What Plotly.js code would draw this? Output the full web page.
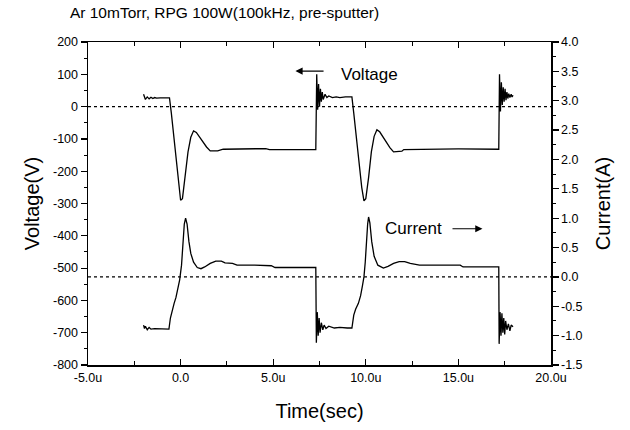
<!DOCTYPE html>
<html>
<head>
<meta charset="utf-8">
<script src="https://cdn.plot.ly/plotly-3.0.1.min.js"></script>
<style>
html,body{margin:0;padding:0;background:#fff;}
#chart{width:630px;height:430px;}
</style>
</head>
<body>
<div id="chart"></div>
<script>
// Time in microseconds
var voltageTime = [
  -2.0,-1.9,-1.8,-1.7,-1.6,-1.5,-1.4,-1.3,-1.1,-0.9,-0.7,-0.6,
  -0.5,-0.35,-0.2,-0.1,0.0,0.1,0.25,0.4,0.55,0.7,0.85,1.1,1.4,1.6,2.0,2.3,3.0,4.6,4.8,7.3,
  7.35,7.4,7.45,7.5,7.55,7.6,7.65,7.7,7.8,7.9,8.0,8.2,8.4,8.6,8.9,9.25,
  9.35,9.5,9.65,9.78,9.9,10.0,10.15,10.3,10.45,10.6,10.75,11.0,11.3,11.5,11.8,11.95,12.05,13.0,15.0,17.18,
  17.22,17.27,17.32,17.37,17.42,17.47,17.52,17.57,17.62,17.67,17.72,17.78,17.85,17.9,17.95
];
var voltageV = [
  38,22,30,24,29,25,28,26,27,27,28,27,
  -20,-100,-190,-250,-290,-285,-220,-140,-95,-75,-80,-100,-125,-137,-137,-132,-131,-130,-133,-133,
  100,-10,70,0,55,15,45,22,38,28,33,28,30,28,30,30,
  -20,-100,-190,-250,-292,-285,-220,-140,-92,-72,-78,-100,-127,-140,-140,-138,-133,-132,-131,-132,
  100,-15,75,5,60,15,55,20,45,25,40,28,38,30,35
];

var currentTime = [
  -2.0,-1.95,-1.9,-1.8,-1.7,-1.6,-1.4,-1.0,-0.63,
  -0.55,-0.45,-0.35,-0.25,-0.15,-0.05,0.05,0.12,0.2,0.27,0.35,0.45,0.55,0.7,0.9,1.1,1.3,1.6,1.9,2.2,2.4,2.8,3.05,4.0,4.9,5.1,7.3,
  7.33,7.38,7.43,7.48,7.53,7.6,7.68,7.75,7.85,8.0,8.3,8.6,9.0,9.25,
  9.35,9.45,9.6,9.72,9.82,9.9,9.97,10.03,10.1,10.15,10.22,10.32,10.45,10.65,10.95,11.2,11.5,11.8,12.1,12.4,12.9,14.0,15.1,15.25,17.18,
  17.2,17.25,17.3,17.35,17.4,17.45,17.5,17.55,17.62,17.7,17.78,17.85,17.95
];
var currentA = [
  -0.82,-0.88,-0.84,-0.9,-0.86,-0.89,-0.88,-0.89,-0.89,
  -0.7,-0.55,-0.45,-0.35,-0.2,-0.05,0.2,0.55,0.9,1.0,0.9,0.6,0.4,0.25,0.16,0.14,0.17,0.23,0.27,0.27,0.24,0.23,0.2,0.2,0.19,0.16,0.16,
  -1.12,-0.6,-1.0,-0.7,-0.95,-0.78,-0.9,-0.82,-0.88,-0.84,-0.87,-0.86,-0.87,-0.87,
  -0.65,-0.55,-0.45,-0.32,-0.15,0.0,0.25,0.6,0.9,1.02,0.92,0.6,0.35,0.2,0.15,0.18,0.23,0.26,0.26,0.23,0.2,0.2,0.2,0.17,0.17,
  -1.14,-0.6,-1.0,-0.62,-0.95,-0.7,-0.98,-0.75,-0.9,-0.8,-0.92,-0.82,-0.85
];

var xTickVals = [-5,0,5,10,15,20];
var xTickText = ["-5.0u","0.0","5.0u","10.0u","15.0u","20.0u"];
var xMinorVals = [-2.5,2.5,7.5,12.5,17.5];
var yTickVals = [200,100,0,-100,-200,-300,-400,-500,-600,-700,-800];
var yTickText = ["200","100","0","-100","-200","-300","-400","-500","-600","-700","-800"];
var yMinorVals = [150,50,-50,-150,-250,-350,-450,-550,-650,-750];
var y2TickVals = [4.0,3.5,3.0,2.5,2.0,1.5,1.0,0.5,0.0,-0.5,-1.0,-1.5];
var y2TickText = ["4.0","3.5","3.0","2.5","2.0","1.5","1.0","0.5","0.0","-0.5","-1.0","-1.5"];
var y2MinorVals = [3.75,3.25,2.75,2.25,1.75,1.25,0.75,0.25,-0.25,-0.75,-1.25];

var F = '"Liberation Sans", Arial, sans-serif';

var traces = [
  {x: voltageTime, y: voltageV, type:'scatter', mode:'lines', line:{color:'#000', width:1.3}, yaxis:'y', hoverinfo:'skip'},
  {x: currentTime, y: currentA, type:'scatter', mode:'lines', line:{color:'#000', width:1.3}, yaxis:'y2', hoverinfo:'skip'}
];

var layout = {
  width:630, height:430,
  margin:{l:88, r:79, t:42, b:65},
  paper_bgcolor:'#fff', plot_bgcolor:'#fff',
  showlegend:false,
  font:{family:F, color:'#000', size:13},
  title:{text:'Ar 10mTorr, RPG 100W(100kHz, pre-sputter)', font:{family:F, size:15.5, color:'#000'}, x:0.111, xanchor:'left', y:0.97, yanchor:'middle'},
  xaxis:{
    range:[-5,20], tickmode:'array', tickvals:xTickVals, ticktext:xTickText,
    ticks:'inside', ticklen:6, tickwidth:1.2, tickcolor:'#000',
    minor:{tickmode:'array', tickvals:xMinorVals, ticks:'inside', ticklen:4, tickcolor:'#000', tickwidth:1},
    showline:true, linecolor:'#000', linewidth:1.5, mirror:'ticks',
    showgrid:false, zeroline:false,
    tickfont:{family:F, size:12.5},
    title:{text:'Time(sec)', font:{family:F, size:20}, standoff:20}
  },
  yaxis:{
    range:[-800,200], tickmode:'array', tickvals:yTickVals, ticktext:yTickText,
    ticks:'outside', ticklen:6, tickwidth:1.2, tickcolor:'#000',
    minor:{tickmode:'array', tickvals:yMinorVals, ticks:'outside', ticklen:3, tickcolor:'#000', tickwidth:1},
    showline:true, linecolor:'#000', linewidth:1.5,
    showgrid:false, zeroline:false,
    tickfont:{family:F, size:12.5},
    title:{text:'Voltage(V)', font:{family:F, size:20}, standoff:8}
  },
  yaxis2:{
    range:[-1.5,4.0], overlaying:'y', side:'right', tickmode:'array', tickvals:y2TickVals, ticktext:y2TickText,
    ticks:'outside', ticklen:6, tickwidth:1.2, tickcolor:'#000',
    minor:{tickmode:'array', tickvals:y2MinorVals, ticks:'outside', ticklen:3, tickcolor:'#000', tickwidth:1},
    showline:true, linecolor:'#000', linewidth:1.5,
    showgrid:false, zeroline:false,
    tickfont:{family:F, size:12.5},
    title:{text:'Current(A)', font:{family:F, size:20}, standoff:14}
  },
  shapes:[
    {type:'line', xref:'paper', x0:0, x1:1, yref:'y', y0:0, y1:0, line:{color:'#000', width:1.2, dash:'dot'}},
    {type:'line', xref:'paper', x0:0, x1:1, yref:'y2', y0:0, y1:0, line:{color:'#000', width:1.2, dash:'dot'}}
  ],
  annotations:[
    {x:6.2, y:110, xref:'x', yref:'y', ax:7.8, ay:110, axref:'x', ayref:'y', showarrow:true, arrowhead:2, arrowsize:1.2, arrowwidth:1.2, arrowcolor:'#000', text:''},
    {x:10.2, y:100, xref:'x', yref:'y', text:'Voltage', showarrow:false, font:{family:F, size:17, color:'#000'}},
    {x:12.6, y:0.82, xref:'x', yref:'y2', text:'Current', showarrow:false, font:{family:F, size:17, color:'#000'}},
    {x:16.3, y:0.82, xref:'x', yref:'y2', ax:14.6, ay:0.82, axref:'x', ayref:'y2', showarrow:true, arrowhead:2, arrowsize:1.2, arrowwidth:1.2, arrowcolor:'#000', text:''}
  ]
};

Plotly.newPlot('chart', traces, layout, {staticPlot:true, displayModeBar:false});
</script>
</body>
</html>
